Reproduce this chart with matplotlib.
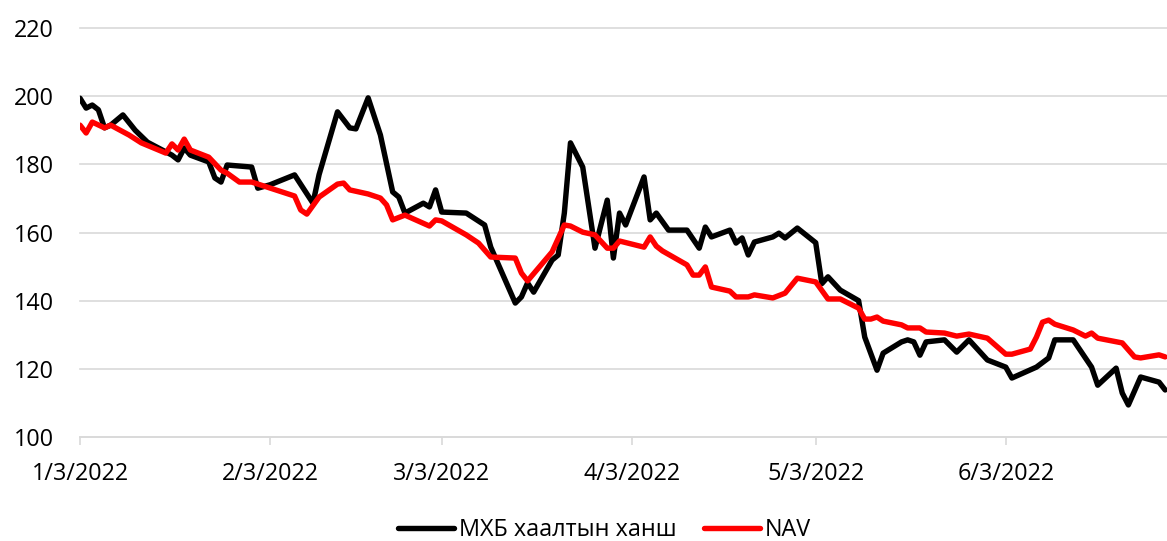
import matplotlib
matplotlib.use('Agg')
import matplotlib.pyplot as plt
import matplotlib.dates as mdates
import pandas as pd

# МХБ хаалтын ханш (closing price)
close_dates = ['2022-01-03', '2022-01-04', '2022-01-05', '2022-01-06', '2022-01-07', '2022-01-08',
               '2022-01-10', '2022-01-12', '2022-01-14', '2022-01-18', '2022-01-19', '2022-01-20',
               '2022-01-21', '2022-01-24', '2022-01-25', '2022-01-26', '2022-01-27', '2022-01-31',
               '2022-02-01', '2022-02-03', '2022-02-07', '2022-02-10', '2022-02-11', '2022-02-14',
               '2022-02-16', '2022-02-17', '2022-02-19', '2022-02-21', '2022-02-23', '2022-02-24',
               '2022-02-25', '2022-02-28', '2022-03-01', '2022-03-02', '2022-03-03', '2022-03-07',
               '2022-03-10', '2022-03-11', '2022-03-15', '2022-03-16', '2022-03-17', '2022-03-18',
               '2022-03-21', '2022-03-22', '2022-03-23', '2022-03-24', '2022-03-26', '2022-03-28',
               '2022-03-30', '2022-03-31', '2022-04-01', '2022-04-02', '2022-04-05', '2022-04-06',
               '2022-04-07', '2022-04-09', '2022-04-12', '2022-04-14', '2022-04-15', '2022-04-16',
               '2022-04-19', '2022-04-20', '2022-04-21', '2022-04-22', '2022-04-23', '2022-04-26',
               '2022-04-27', '2022-04-28', '2022-04-30', '2022-05-03', '2022-05-04', '2022-05-05',
               '2022-05-07', '2022-05-10', '2022-05-11', '2022-05-13', '2022-05-14', '2022-05-17',
               '2022-05-18', '2022-05-19', '2022-05-20', '2022-05-21', '2022-05-24', '2022-05-26',
               '2022-05-28', '2022-05-31', '2022-06-03', '2022-06-04', '2022-06-08', '2022-06-10',
               '2022-06-11', '2022-06-14', '2022-06-17', '2022-06-18', '2022-06-21', '2022-06-22',
               '2022-06-23', '2022-06-25', '2022-06-28', '2022-06-29']
close_values = [199.4, 196.5, 197.4, 196.0, 190.7, 191.5,
                194.5, 190.0, 186.5, 182.7, 181.3, 184.8,
                182.7, 180.7, 176.0, 174.8, 179.8, 179.2,
                173.0, 174.0, 176.9, 168.6, 177.0, 195.4,
                190.7, 190.4, 199.5, 188.6, 171.9, 170.4,
                165.7, 168.6, 167.5, 172.5, 166.0, 165.7,
                162.2, 155.7, 139.3, 141.1, 145.2, 142.5,
                151.9, 153.4, 165.7, 186.3, 179.2, 155.4,
                169.5, 152.5, 165.7, 162.2, 176.3, 163.7,
                165.7, 160.7, 160.7, 155.4, 161.6, 158.7,
                160.7, 156.9, 158.4, 153.4, 157.2, 158.7,
                159.8, 158.4, 161.3, 157.0, 145.0, 147.0,
                143.1, 140.0, 129.3, 119.6, 124.6, 127.9,
                128.5, 127.9, 124.0, 127.9, 128.5, 124.9,
                128.5, 122.6, 120.5, 117.3, 120.5, 123.2,
                128.5, 128.5, 120.5, 115.2, 120.2, 112.9,
                109.4, 117.6, 116.1, 113.8]

# NAV
nav_dates = ['2022-01-03', '2022-01-04', '2022-01-05', '2022-01-07', '2022-01-08', '2022-01-11',
             '2022-01-13', '2022-01-17', '2022-01-18', '2022-01-19', '2022-01-20', '2022-01-21',
             '2022-01-24', '2022-01-26', '2022-01-27', '2022-01-29', '2022-01-31', '2022-02-07',
             '2022-02-08', '2022-02-09', '2022-02-11', '2022-02-14', '2022-02-15', '2022-02-16',
             '2022-02-19', '2022-02-21', '2022-02-22', '2022-02-23', '2022-02-25', '2022-03-01',
             '2022-03-02', '2022-03-03', '2022-03-07', '2022-03-09', '2022-03-11', '2022-03-15',
             '2022-03-16', '2022-03-17', '2022-03-21', '2022-03-23', '2022-03-24', '2022-03-26',
             '2022-03-28', '2022-03-30', '2022-03-31', '2022-04-01', '2022-04-05', '2022-04-06',
             '2022-04-07', '2022-04-08', '2022-04-12', '2022-04-13', '2022-04-14', '2022-04-15',
             '2022-04-16', '2022-04-19', '2022-04-20', '2022-04-22', '2022-04-23', '2022-04-26',
             '2022-04-28', '2022-04-30', '2022-05-03', '2022-05-05', '2022-05-07', '2022-05-09',
             '2022-05-10', '2022-05-11', '2022-05-12', '2022-05-13', '2022-05-14', '2022-05-17',
             '2022-05-18', '2022-05-20', '2022-05-21', '2022-05-24', '2022-05-26', '2022-05-28',
             '2022-05-31', '2022-06-03', '2022-06-04', '2022-06-07', '2022-06-08', '2022-06-09',
             '2022-06-10', '2022-06-11', '2022-06-14', '2022-06-16', '2022-06-17', '2022-06-18',
             '2022-06-22', '2022-06-24', '2022-06-25', '2022-06-28', '2022-06-29']
nav_values = [191.5, 189.2, 192.4, 190.7, 191.5, 188.6,
              186.3, 183.3, 186.0, 184.2, 187.4, 184.2,
              182.1, 178.3, 177.4, 174.8, 174.8, 170.7,
              166.6, 165.4, 170.4, 174.2, 174.5, 172.5,
              171.3, 170.1, 168.1, 163.7, 165.1, 161.9,
              163.7, 163.4, 159.3, 156.9, 152.8, 152.5,
              148.1, 145.8, 154.3, 162.2, 161.9, 160.1,
              159.3, 155.4, 155.4, 157.5, 155.7, 158.7,
              156.0, 154.6, 150.5, 147.5, 147.5, 149.9,
              144.0, 142.8, 141.1, 141.1, 141.7, 140.8,
              142.2, 146.6, 145.5, 140.5, 140.5, 138.7,
              137.8, 134.6, 134.6, 135.2, 134.0, 132.9,
              132.0, 132.0, 130.8, 130.5, 129.6, 130.2,
              129.0, 124.3, 124.3, 125.8, 129.3, 133.7,
              134.3, 133.1, 131.4, 129.6, 130.5, 129.0,
              127.6, 123.5, 123.2, 124.1, 123.5]

tick_dates = ['2022-01-03', '2022-02-03', '2022-03-03', '2022-04-03', '2022-05-03', '2022-06-03']
tick_labels = ['1/3/2022', '2/3/2022', '3/3/2022', '4/3/2022', '5/3/2022', '6/3/2022']
y_ticks = [100, 120, 140, 160, 180, 200, 220]

plt.rcParams['font.family'] = ['Open Sans', 'DejaVu Sans']
grid_color = '#d9d9d9'

fig = plt.figure(figsize=(11.67, 5.41), dpi=100)
ax = fig.add_axes([80 / 1167, 1 - 437 / 541, 1 - 80 / 1167, (437 - 28) / 541])

ax.plot(pd.to_datetime(close_dates), close_values, color='black', linewidth=3.9,
        solid_joinstyle='round', solid_capstyle='round', label='МХБ хаалтын ханш', zorder=3)
ax.plot(pd.to_datetime(nav_dates), nav_values, color='#ff0000', linewidth=3.9,
        solid_joinstyle='round', solid_capstyle='round', label='NAV', zorder=4)

left = mdates.date2num(pd.Timestamp('2022-01-03'))
ax.set_xlim(left, left + 177.3)
ax.set_ylim(100, 220)
ax.set_yticks(y_ticks)
ax.set_xticks(pd.to_datetime(tick_dates))
ax.set_xticklabels(tick_labels)

ax.grid(axis='y', color=grid_color, linewidth=1.2)
for gl in ax.get_ygridlines():
    gl.set_clip_on(False)
ax.set_axisbelow(True)

for side in ['top', 'right', 'left']:
    ax.spines[side].set_visible(False)
ax.spines['bottom'].set_color(grid_color)
ax.spines['bottom'].set_linewidth(1.2)

ax.tick_params(axis='y', length=0, pad=19, labelsize=16.8)
ax.tick_params(axis='x', length=6, width=1.2, color=grid_color, pad=12, labelsize=16.8)

fig.legend(loc='center', bbox_to_anchor=(0.518, 0.02), ncol=2, frameon=False,
           fontsize=16.8, handlelength=2.4, handletextpad=0.2, columnspacing=1.2)

fig.savefig('out.png', dpi=100)
